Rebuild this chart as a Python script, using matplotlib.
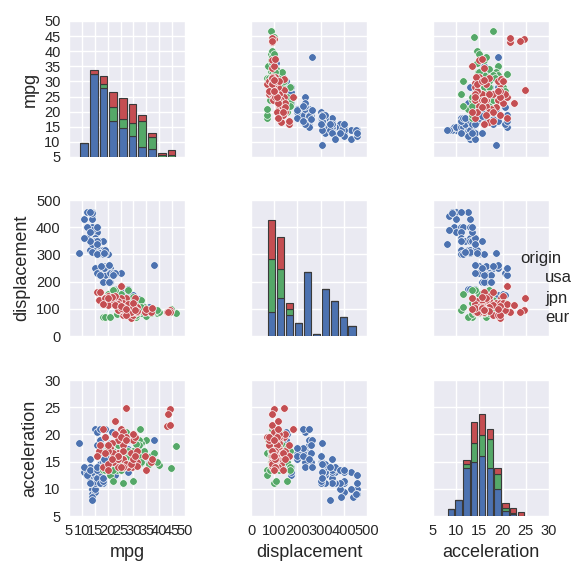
import matplotlib
matplotlib.use("Agg")
import matplotlib.pyplot as plt
import numpy as np

plt.rcParams['font.family'] = ['Liberation Sans', 'DejaVu Sans']

# (mpg, displacement, acceleration)
usa = [(14,455,10),(14,455,9),(14,440,8.5),(14,429,10),(14,454,9),(15,400,9.5),(13,400,11),(14,400,11.5),
       (15,383,10),(16,383,11),(14,390,8.5),(15,360,11),(15,350,11.5),(13,350,12),(14,350,12.5),(16,350,13),
       (17,350,12),(18,350,11),(15,350,13.5),(12,360,13),(15,351,13),(16,351,13.5),(14,318,13.5),(15,318,12.5),
       (17,318,13),(18,318,11),(13,318,14),(16,304,12),(17,304,13),(17,302,11),(18,302,11.5),(20,302,15),
       (14,307,13),(18,307,12),(19,305,15),(17,305,14.5),(14,340,8),(11,429,13),(12,400,13),(13,350,15.5),
       (12,455,12.5),(11,360,14),(13,383,13.5),(16,400,13.5),(19,318,14.5),(16,302,16),(18.5,304,14.5),
       (16,340,14),(13,455,11),(9,304,18.5),
       (16,250,18),(18,250,16),(19,250,15.5),(21,250,16),(18,232,15),(19,232,17),(20,232,16),(19,258,15),
       (20,258,16.5),(18,225,17),(20,225,16.5),(19,225,17.5),(21,231,15.5),(22,231,14.5),(20,200,15.5),
       (18,200,16.5),(21,200,16),(20.5,200,17.5),(17,250,19),(15,250,21),(16,232,20.5),(17,225,21),
       (25,231,15),(23,231,14),(38,262,19),(22,225,16),(19,250,21),(18.5,250,15.5),(17.5,258,18),(20.5,262,14),
       (22,140,15),(25,140,15.5),(26,140,16),(23,140,16.5),(28,140,17),(27,151,16.5),(25,151,18),(28,151,17.3),
       (24,151,19),(26,122,15),(29,98,14.5),(30,98,15),(31,97,16),(30,105,14.5),(34,105,15.5),(32,85,18),
       (36,91,15),(28,112,19),(27,135,14),(32,135,16.5),(27,119,19),(30,151,16),(26,156,20),(23,173,12.5),
       (26.5,173,14),(28,173,13),(22.5,146,17),(33,120,17),(36,107,15.5),(35,98,16),(21,140,18.5),(21.5,151,20.5)]
jpn = [(18,70,13.5),(19,70,13.5),(21,70,12.5),(23.7,80,13.5),(31,71,16.5),(35,72,19),(33,85,17),(37,85,16),
       (46.6,86,17.9),(39,86,15),(40,89,14.4),(32,91,16.5),(36,91,14.5),(38,91,16.5),(27,97,15.5),(29,97,16),
       (31,97,17),(33,97,18.5),(24,97,16),(32,97,14.5),(28,97,20),(44.6,98,13.8),(39,97,15),(32,107,16),
       (24,108,15.5),(32,108,19),(34,108,17),(24,113,15.5),(26,113,14),(27,114,16),(22,119,17),(25,119,17.5),
       (31,119,15),(25,120,13.5),(32,120,18),(28,134,16),(24,134,18),(33,134,14.7),(30,144,17),(22,156,11.5),
       (25,156,15),(20,156,17.5),(23,168,14),(22,168,13.5),(28,168,17),(32.5,91,21),(33,105,15),(24,120,19),
       (27,120,20.5),(31,79,18.3),(26,97,11),(30,107,11.5)]
eur = [(29,68,19.5),(26,79,18),(30,79,19),(26,90,15.5),(31,90,14.5),(29.5,90,14),(44,97,24.6),(43.1,90,21.5),
       (44.3,90,21.7),(43.4,90,23.7),(27.2,141,24.8),(25,141,16.7),(30.7,141,19.6),(24,120,19),(21.5,120,18.5),
       (26,121,15.5),(24,121,14),(22,121,15),(19,121,19.5),(21,121,17.5),(18,121,14),(20,130,14.5),(24,130,16.5),
       (16.5,131,17),(22,133,16.5),(20,146,17),(23,146,20),(16,163,16),(17,163,18),(25,183,21),(28,116,14),
       (24,116,15.5),(20,114,18),(24,107,16),(31.5,105,15),(26,105,17),(26,97,20.5),(29,97,16.5),(27,97,14.5),
       (26,98,14),(31.5,89,14.2),(34.3,90,16),(37,89,15),(29,90,14.5),(31.3,91,17),(24,96,16),(25,104,14),
       (30,108,15.5),(27,79,19.5),(30,120,20.1),(19,140,16.5),(35,100,13.5),(37.3,104,15.5),(21.6,145,15.5),
       (30.5,97,16),(18,116,21),(23,115,22.5),(25,110,19.5),(20,140,13.5),(27,98,19)]

origins = ['usa', 'jpn', 'eur']
colors = {'usa': '#4C72B0', 'jpn': '#55A868', 'eur': '#C44E52'}
data = {'usa': np.array(usa), 'jpn': np.array(jpn), 'eur': np.array(eur)}
variables = ['mpg', 'displacement', 'acceleration']

# stacked histogram counts per bin
hist_range = {'mpg': (9, 46.6), 'displacement': (68, 455), 'acceleration': (8, 24.8)}
hist_counts = {
    'mpg': {'usa': [13,76,63,33,26,19,9,7,0,0], 'jpn': [0,0,4,13,9,12,24,11,2,2], 'eur': [0,3,7,13,19,17,5,4,2,4]},
    'displacement': {'usa': [22,35,19,12,58,2,43,32,17,9], 'jpn': [48,26,6,0,0,0,0,0,0,0], 'eur': [36,29,5,0,0,0,0,0,0,0]},
    'acceleration': {'usa': [6,15,44,49,55,44,25,5,2,0], 'jpn': [0,0,3,18,19,26,13,2,1,0], 'eur': [0,0,4,19,19,9,6,5,4,4]},
}
lims = {'mpg': (5, 50), 'displacement': (0, 500), 'acceleration': (5, 30)}
ticks = {'mpg': np.arange(5, 51, 5), 'displacement': np.arange(0, 501, 100), 'acceleration': np.arange(5, 31, 5)}

fig = plt.figure(figsize=(5.77, 5.76), dpi=100)
W, H = 577, 576
lefts = [69, 251, 433]
tops = [21, 200, 380]
aw, ah = 116, 136

for i, yv in enumerate(variables):
    for j, xv in enumerate(variables):
        ax = fig.add_axes([lefts[j]/W, 1-(tops[i]+ah)/H, aw/W, ah/H])
        ax.set_facecolor('#EAEAF2')
        for s in ax.spines.values():
            s.set_visible(False)
        ax.grid(True, color='white', lw=1)
        ax.set_axisbelow(True)
        ax.set_xlim(lims[xv]); ax.set_xticks(ticks[xv])
        ax.set_ylim(lims[yv]); ax.set_yticks(ticks[yv])
        ax.tick_params(length=0, labelsize=10.5, colors='#262626', pad=6)
        if i == j:
            tw = ax.twinx()
            tw.set_ylim(0, 124)
            tw.set_yticks([])
            for s in tw.spines.values():
                s.set_visible(False)
            lo, hi = hist_range[xv]
            edges = np.linspace(lo, hi, 11)
            w = edges[1]-edges[0]
            centers = edges[:-1] + w/2
            bottom = np.zeros(10)
            for o in origins:
                c = np.array(hist_counts[xv][o], dtype=float)
                tw.bar(centers, c, width=w*0.8, bottom=bottom, color=colors[o],
                       edgecolor='#3a3a3a', lw=0.8, alpha=1)
                bottom += c
        else:
            for o in origins:
                d = data[o]
                ax.scatter(d[:, j], d[:, i], s=30, color=colors[o], edgecolor='white', lw=0.5, zorder=3)
        if j == 0:
            ax.set_ylabel(yv, fontsize=13, color='#262626')
        else:
            ax.set_yticklabels([])
        if i == 2:
            ax.set_xlabel(xv, fontsize=13, color='#262626')
        else:
            ax.set_xticklabels([])

fig.text(520/W, 1-258/H, 'origin', fontsize=12, color='#262626', va='center')
for k, o in enumerate(origins):
    fig.text(545/W, 1-(278+20*k)/H, o, fontsize=12, color='#262626', va='center')

fig.savefig('out.png', dpi=100)
